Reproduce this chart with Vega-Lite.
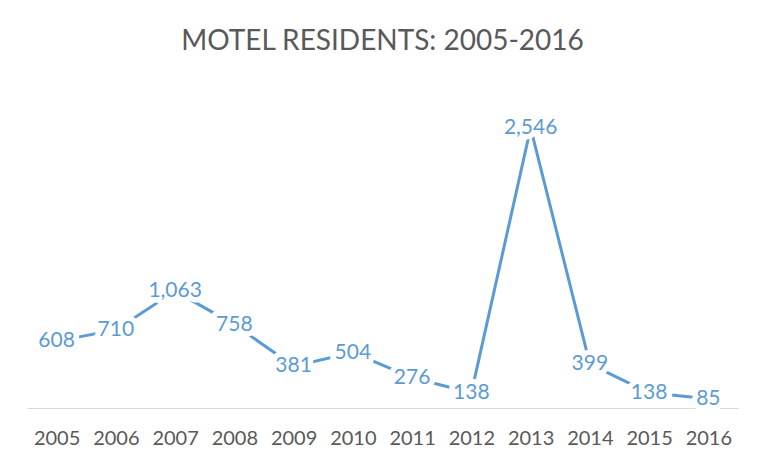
{
  "$schema": "https://vega.github.io/schema/vega-lite/v6.json",
  "autosize": {"type": "none"},
  "width": 711,
  "height": 330,
  "padding": {"left": 27, "top": 78, "right": 31, "bottom": 50},
  "background": "white",
  "config": {"view": {"stroke": null}, "font": "Lato"},
  "title": {
    "text": "MOTEL RESIDENTS: 2005-2016",
    "font": "Lato",
    "fontSize": 28,
    "fontWeight": "normal",
    "color": "#595959",
    "anchor": "middle",
    "offset": 22
  },
  "data": {
    "values": [
      {"year": "2005", "residents": 608},
      {"year": "2006", "residents": 710},
      {"year": "2007", "residents": 1063},
      {"year": "2008", "residents": 758},
      {"year": "2009", "residents": 381},
      {"year": "2010", "residents": 504},
      {"year": "2011", "residents": 276},
      {"year": "2012", "residents": 138},
      {"year": "2013", "residents": 2546},
      {"year": "2014", "residents": 399},
      {"year": "2015", "residents": 138},
      {"year": "2016", "residents": 85}
    ]
  },
  "encoding": {
    "x": {
      "field": "year",
      "type": "ordinal",
      "scale": {"paddingInner": 0, "paddingOuter": 0},
      "axis": {
        "title": null,
        "labelAngle": 0,
        "labelFont": "Lato",
        "labelFontSize": 20,
        "labelColor": "#595959",
        "labelPadding": 20,
        "ticks": false,
        "domainColor": "#d9d9d9",
        "domainWidth": 1
      }
    },
    "y": {
      "field": "residents",
      "type": "quantitative",
      "scale": {"domain": [0, 3000], "nice": false},
      "axis": null
    }
  },
  "layer": [
    {
      "mark": {"type": "line", "color": "#5b9bd5", "strokeWidth": 3}
    },
    {
      "mark": {
        "type": "text",
        "font": "Lato",
        "fontSize": 21,
        "align": "center",
        "baseline": "middle",
        "stroke": "white",
        "strokeWidth": 11,
        "strokeJoin": "round",
        "fill": "white"
      },
      "encoding": {"text": {"field": "residents", "type": "quantitative", "format": ","}}
    },
    {
      "mark": {
        "type": "text",
        "font": "Lato",
        "fontSize": 21,
        "align": "center",
        "baseline": "middle",
        "color": "#5b9bd5"
      },
      "encoding": {"text": {"field": "residents", "type": "quantitative", "format": ","}}
    }
  ]
}
